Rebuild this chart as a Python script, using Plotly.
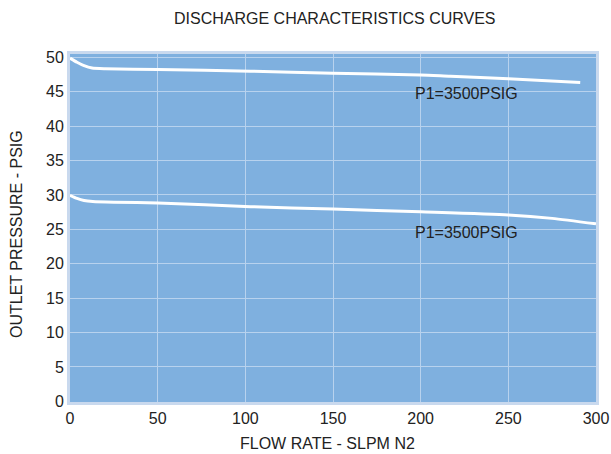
import plotly.graph_objects as go

upper_x = [0, 4, 8, 12.6, 20, 50, 103, 150, 200, 217, 250, 291]
upper_y = [49.9, 49.3, 48.8, 48.45, 48.35, 48.25, 48.0, 47.7, 47.45, 47.25, 46.9, 46.35]

lower_x = [0, 4, 8, 13, 25, 50, 103, 150, 200, 250, 275, 300]
lower_y = [29.95, 29.5, 29.2, 29.05, 28.95, 28.85, 28.3, 27.95, 27.55, 27.1, 26.6, 25.8]

labels = ["P1=3500PSIG", "P1=3500PSIG"]
label_x = [226, 226]
label_y = [44.8, 24.6]

x_ticks = [0, 50, 100, 150, 200, 250, 300]
y_ticks = [0, 5, 10, 15, 20, 25, 30, 35, 40, 45, 50]

FONT = "Liberation Sans, Arial, sans-serif"
TXT = "#222222"

fig = go.Figure()
for xs, ys in [(upper_x, upper_y), (lower_x, lower_y)]:
    fig.add_trace(go.Scatter(x=xs, y=ys, mode="lines",
                             line=dict(color="white", width=3, shape="spline", smoothing=0.6),
                             hoverinfo="skip", showlegend=False))

for t, xv, yv in zip(labels, label_x, label_y):
    fig.add_annotation(x=xv, y=yv, text=t, showarrow=False, xanchor="center", yanchor="middle",
                       font=dict(family=FONT, size=16, color=TXT))

# titles
fig.add_annotation(xref="paper", yref="paper", x=(335 - 70) / 526, y=1 + (54 - 19) / 348,
                   text="DISCHARGE CHARACTERISTICS CURVES", showarrow=False,
                   xanchor="center", yanchor="middle", font=dict(family=FONT, size=16, color=TXT))
fig.add_annotation(xref="paper", yref="paper", x=(327 - 70) / 526, y=-(444 - 402) / 348,
                   text="FLOW RATE - SLPM N2", showarrow=False,
                   xanchor="center", yanchor="middle", font=dict(family=FONT, size=16, color=TXT))
fig.add_annotation(xref="paper", yref="paper", x=-(70 - 17) / 526, y=(402 - 234) / 348,
                   text="OUTLET PRESSURE - PSIG", showarrow=False, textangle=-90,
                   xanchor="center", yanchor="middle", font=dict(family=FONT, size=16, color=TXT))

fig.update_layout(
    width=611, height=454,
    margin=dict(l=70, r=15, t=54, b=52),
    paper_bgcolor="white",
    plot_bgcolor="#7fb0df",
    font=dict(family=FONT, color=TXT),
)
fig.update_xaxes(range=[0, 300], tickvals=x_ticks, showgrid=True, gridcolor="#b8d2ee", gridwidth=1,
                 zeroline=False, showline=True, linecolor="#c9d9ee", linewidth=3, mirror=True,
                 ticks="", automargin=False, tickfont=dict(size=16, family=FONT, color=TXT))
fig.update_yaxes(range=[-0.1, 50.5], tickvals=y_ticks, showgrid=True, gridcolor="#b8d2ee", gridwidth=1,
                 zeroline=False, showline=True, linecolor="#c9d9ee", linewidth=3, mirror=True,
                 ticks="", automargin=False, tickfont=dict(size=16, family=FONT, color=TXT))

fig.write_html("out.html")
